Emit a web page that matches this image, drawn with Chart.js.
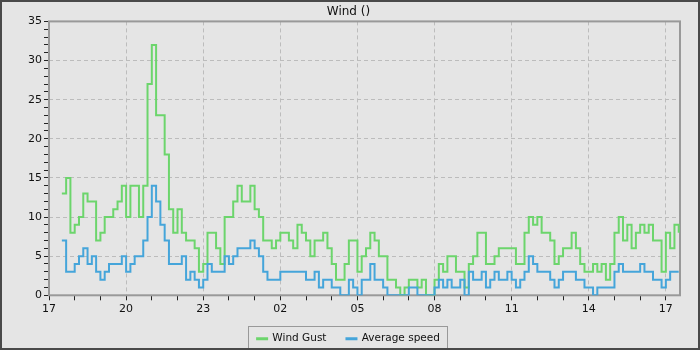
<!DOCTYPE html>
<html>
<head>
<meta charset="utf-8">
<script src="https://cdn.jsdelivr.net/npm/chart.js@4/dist/chart.umd.min.js"></script>
<style>
  html, body { margin: 0; padding: 0; background: #e5e5e5; }
</style>
</head>
<body>
<canvas id="windChart" width="700" height="350"></canvas>
<script>
// samples every 10 min, first one at 17:30
const startHour = 17;
const firstSample = 0.5;   // hours after 17:00
const samplesPerHour = 6;

const windGust = [
  13, 15, 8, 9, 10, 13, 12, 12, 7, 8, 10, 10, 11, 12, 14, 10, 14, 14, 10, 14,
  27, 32, 23, 23, 18, 11, 8, 11, 8, 7, 7, 6, 3, 4, 8, 8, 6, 4, 10, 10,
  12, 14, 12, 12, 14, 11, 10, 7, 7, 6, 7, 8, 8, 7, 6, 9, 8, 7, 5, 7,
  7, 8, 6, 4, 2, 2, 4, 7, 7, 3, 5, 6, 8, 7, 5, 5, 2, 2, 1, 0,
  1, 2, 2, 1, 2, 0, 0, 2, 4, 3, 5, 5, 3, 3, 1, 4, 5, 8, 8, 4,
  4, 5, 6, 6, 6, 6, 4, 4, 8, 10, 9, 10, 8, 8, 7, 4, 5, 6, 6, 8,
  6, 4, 3, 3, 4, 3, 4, 2, 4, 8, 10, 7, 9, 6, 8, 9, 8, 9, 7, 7,
  3, 8, 6, 9, 8
];
const avgSpeed = [
  7, 3, 3, 4, 5, 6, 4, 5, 3, 2, 3, 4, 4, 4, 5, 3, 4, 5, 5, 7,
  10, 14, 12, 9, 7, 4, 4, 4, 5, 2, 3, 2, 1, 2, 4, 3, 3, 3, 5, 4,
  5, 6, 6, 6, 7, 6, 5, 3, 2, 2, 2, 3, 3, 3, 3, 3, 3, 2, 2, 3,
  1, 2, 2, 1, 1, 0, 0, 2, 1, 0, 2, 2, 4, 2, 2, 1, 0, 0, 0, 0,
  0, 1, 1, 0, 0, 0, 0, 1, 2, 1, 2, 1, 1, 2, 0, 3, 2, 2, 3, 1,
  2, 3, 2, 2, 3, 2, 1, 2, 3, 5, 4, 3, 3, 3, 2, 1, 2, 3, 3, 3,
  2, 2, 1, 1, 0, 1, 1, 1, 1, 3, 4, 3, 3, 3, 3, 4, 3, 3, 2, 2,
  1, 2, 3, 3, 3
];
const hourTicks = [0, 3, 6, 9, 12, 15, 18, 21, 24];
const yLabels = [0, 5, 10, 15, 20, 25, 30, 35];

const gustPts = windGust.map((v, i) => ({ x: firstSample + i / samplesPerHour, y: v }));
const avgPts = avgSpeed.map((v, i) => ({ x: firstSample + i / samplesPerHour, y: v }));

const font = { family: 'DejaVu Sans', size: 11 };

const frame = {
  id: 'frame',
  beforeDraw(chart) {
    const c = chart.ctx;
    c.save();
    c.fillStyle = '#e5e5e5';
    c.fillRect(0, 0, chart.width, chart.height);
    c.restore();
  },
  beforeDatasetsDraw(chart) {
    const c = chart.ctx, a = chart.chartArea;
    c.save();
    c.strokeStyle = '#999';
    c.lineWidth = 2;
    c.strokeRect(a.left, a.top, a.right - a.left, a.bottom - a.top);
    c.restore();
  },
  afterDraw(chart) {
    const c = chart.ctx;
    c.save();
    const hb = chart.legend.legendHitBoxes;
    if (hb && hb.length) {
      let x0 = Infinity, y0 = Infinity, x1 = -Infinity, y1 = -Infinity;
      hb.forEach(b => {
        x0 = Math.min(x0, b.left); y0 = Math.min(y0, b.top);
        x1 = Math.max(x1, b.left + b.width); y1 = Math.max(y1, b.top + b.height);
      });
      c.strokeStyle = '#999';
      c.lineWidth = 1;
      c.strokeRect(Math.round(x0 - 9) + 0.5, Math.round(y0 - 7) + 0.5, Math.round(x1 - x0 + 16), Math.round(y1 - y0 + 11));
    }
    c.strokeStyle = '#4a4a4a';
    c.lineWidth = 2;
    c.strokeRect(1, 1, chart.width - 2, chart.height - 2);
    c.restore();
  }
};

new Chart(document.getElementById('windChart'), {
  type: 'line',
  data: {
    datasets: [{
      label: 'Wind Gust',
      data: gustPts,
      borderColor: '#6cd56c',
      backgroundColor: '#6cd56c',
      borderWidth: 2,
      pointRadius: 0,
      stepped: 'before',
      order: 1
    }, {
      label: 'Average speed',
      data: avgPts,
      borderColor: '#45a5da',
      backgroundColor: '#45a5da',
      borderWidth: 2,
      pointRadius: 0,
      stepped: 'before',
      order: 0
    }]
  },
  options: {
    responsive: false,
    animation: false,
    layout: { padding: { left: 17, right: 20, top: 0, bottom: -4 } },
    plugins: {
      title: {
        display: true,
        text: 'Wind ()',
        color: '#111',
        font: { family: 'DejaVu Sans', size: 12, weight: 'normal' },
        padding: { top: 5, bottom: 2 }
      },
      legend: {
        position: 'bottom',
        labels: {
          color: '#111',
          font: { family: 'DejaVu Sans', size: 10.5 },
          boxWidth: 10,
          boxHeight: 1,
          padding: 20,
          sort: (a, b) => a.datasetIndex - b.datasetIndex
        }
      },
      tooltip: { enabled: false }
    },
    scales: {
      x: {
        type: 'linear',
        min: 0,
        max: 24.55,
        border: { display: false, dash: [4, 3] },
        afterFit: s => { s.height = s.height - 4; },
        grid: {
          color: ctx => hourTicks.includes(ctx.tick.value) ? '#bcbcbc' : 'rgba(0,0,0,0)',
          tickColor: '#222',
          tickLength: 5,
          lineWidth: 1
        },
        ticks: {
          stepSize: 1,
          includeBounds: false,
          autoSkip: false,
          maxRotation: 0,
          color: '#111',
          font: font,
          padding: 2,
          callback: v => hourTicks.includes(v) ? String((startHour + v) % 24).padStart(2, '0') : ''
        }
      },
      y: {
        min: 0,
        max: 35,
        border: { display: false, dash: [4, 3] },
        afterFit: s => { s.width = 32; },
        grid: {
          color: ctx => yLabels.includes(ctx.tick.value) && ctx.tick.value > 0 ? '#bcbcbc' : 'rgba(0,0,0,0)',
          tickColor: '#222',
          tickLength: 5,
          lineWidth: 1
        },
        ticks: {
          stepSize: 1,
          autoSkip: false,
          color: '#111',
          font: font,
          padding: 2,
          callback: v => yLabels.includes(v) ? String(v) : ''
        }
      }
    }
  },
  plugins: [frame]
});
</script>
</body>
</html>
